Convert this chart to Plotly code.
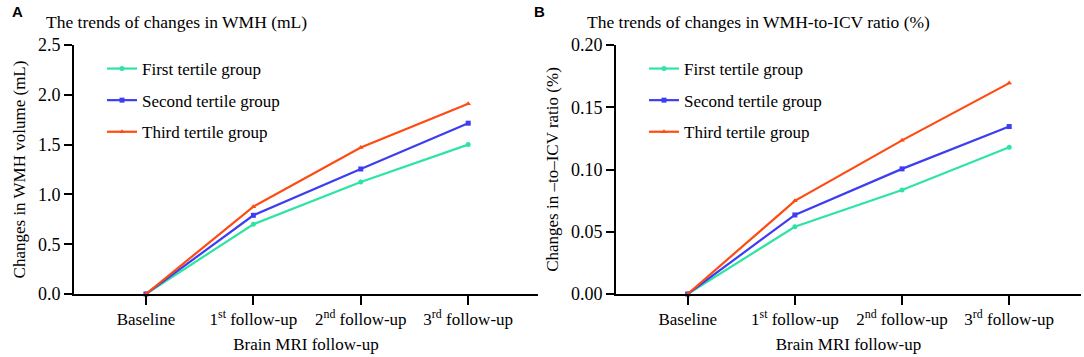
import plotly.graph_objects as go

# ---- data ----
categories = [0, 1, 2, 3]
tick_labels = ["Baseline", "1<sup>st</sup> follow-up", "2<sup>nd</sup> follow-up", "3<sup>rd</sup> follow-up"]
series_names = ["First tertile group", "Second tertile group", "Third tertile group"]

wmh_first = [0.0, 0.70, 1.125, 1.50]
wmh_second = [0.0, 0.79, 1.255, 1.715]
wmh_third = [0.0, 0.877, 1.47, 1.91]

ratio_first = [0.0, 0.054, 0.0835, 0.1178]
ratio_second = [0.0, 0.0635, 0.1005, 0.1345]
ratio_third = [0.0, 0.0748, 0.1234, 0.1694]

colors = ["#2EE4A2", "#3D3DF2", "#FF4A12"]
symbols = ["circle", "square", "triangle-up"]

FONT = "Liberation Serif, Times New Roman, serif"

fig = go.Figure()

panelA = [wmh_first, wmh_second, wmh_third]
panelB = [ratio_first, ratio_second, ratio_third]

for i, (name, vals) in enumerate(zip(series_names, panelA)):
    fig.add_trace(go.Scatter(
        x=categories, y=vals, name=name, mode="lines+markers",
        line=dict(color=colors[i], width=2.2),
        marker=dict(symbol=symbols[i], size=5, color=colors[i]),
        xaxis="x", yaxis="y", legend="legend", legendgroup="a%d" % i,
        cliponaxis=False))

for i, (name, vals) in enumerate(zip(series_names, panelB)):
    fig.add_trace(go.Scatter(
        x=categories, y=vals, name=name, mode="lines+markers",
        line=dict(color=colors[i], width=2.2),
        marker=dict(symbol=symbols[i], size=5, color=colors[i]),
        xaxis="x2", yaxis="y2", legend="legend2", legendgroup="b%d" % i,
        cliponaxis=False))

W, H = 1084, 357

def px_x(p):
    return p / W

def px_y(p):
    return 1 - p / H

xcommon = dict(
    tickmode="array", tickvals=categories, ticktext=tick_labels,
    showline=True, linecolor="black", linewidth=2,
    ticks="outside", ticklen=9, tickwidth=2, tickcolor="black",
    showgrid=False, zeroline=False, automargin=False,
    tickfont=dict(family=FONT, size=17, color="black"),
    title=dict(text="Brain MRI follow-up", font=dict(family=FONT, size=17, color="black"), standoff=10),
)
ycommon = dict(
    showline=True, linecolor="black", linewidth=2,
    ticks="outside", ticklen=8, tickwidth=2, tickcolor="black",
    showgrid=False, zeroline=False, automargin=False,
    tickfont=dict(family=FONT, size=18, color="black"),
)

legend_common = dict(
    font=dict(family=FONT, size=17, color="black"),
    bgcolor="rgba(0,0,0,0)", tracegroupgap=6.5,
    xanchor="left", yanchor="top", itemwidth=30,
)

fig.update_layout(
    width=W, height=H,
    margin=dict(l=0, r=0, t=0, b=0, autoexpand=False),
    paper_bgcolor="white", plot_bgcolor="white",
    showlegend=True,
    xaxis=dict(domain=[px_x(74), px_x(538)], range=[-0.67, 3.65], anchor="y", **xcommon),
    yaxis=dict(domain=[px_y(294), px_y(45)], range=[0, 2.5], dtick=0.5, tickformat=".1f", anchor="x",
               title=dict(text="Changes in WMH volume (mL)", font=dict(family=FONT, size=17, color="black"), standoff=8),
               **ycommon),
    xaxis2=dict(domain=[px_x(616), px_x(1081)], range=[-0.669, 3.67], anchor="y2", **xcommon),
    yaxis2=dict(domain=[px_y(294), px_y(45)], range=[0, 0.2], dtick=0.05, tickformat=".2f", anchor="x2",
                title=dict(text="Changes in \u2013to\u2013ICV ratio (%)", font=dict(family=FONT, size=17, color="black"), standoff=8),
                **ycommon),
    legend=dict(x=px_x(102), y=px_y(51), **legend_common),
    legend2=dict(x=px_x(644), y=px_y(51), **legend_common),
    annotations=[
        dict(text="<b>A</b>", x=px_x(10), y=px_y(12), xref="paper", yref="paper",
             xanchor="left", yanchor="middle", showarrow=False,
             font=dict(family="Liberation Sans, Arial, sans-serif", size=15, color="black")),
        dict(text="<b>B</b>", x=px_x(532), y=px_y(12), xref="paper", yref="paper",
             xanchor="left", yanchor="middle", showarrow=False,
             font=dict(family="Liberation Sans, Arial, sans-serif", size=15, color="black")),
        dict(text="The trends of changes in WMH (mL)", x=px_x(44), y=px_y(22), xref="paper", yref="paper",
             xanchor="left", yanchor="middle", showarrow=False,
             font=dict(family=FONT, size=17.5, color="black")),
        dict(text="The trends of changes in WMH-to-ICV ratio (%)", x=px_x(585), y=px_y(22), xref="paper", yref="paper",
             xanchor="left", yanchor="middle", showarrow=False,
             font=dict(family=FONT, size=17.5, color="black")),
    ],
)

fig.write_html("out.html", config={"displayModeBar": False},
               post_script="document.body.style.margin='0px';")
